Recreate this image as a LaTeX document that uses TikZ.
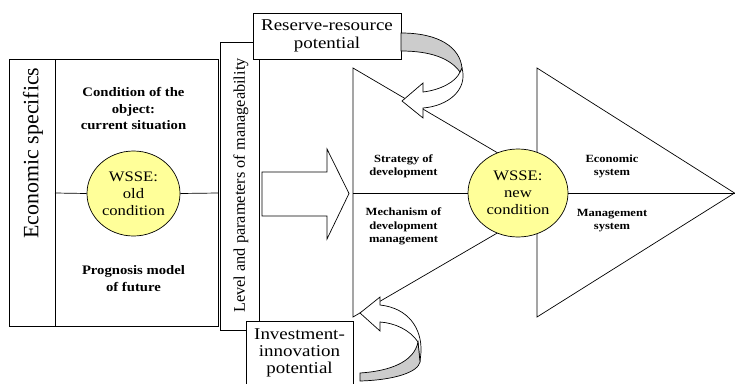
\documentclass[tikz,border=0pt]{standalone}
\usepackage{fontspec}
\setmainfont{Liberation Serif}
\usetikzlibrary{shapes.geometric}
\definecolor{wyellow}{RGB}{255,255,153}
\definecolor{rgray}{RGB}{204,204,204}
\newcommand{\sx}[1]{\scalebox{1.15}[1]{#1}}
\begin{document}
\begin{tikzpicture}[x=1pt,y=-1pt,line width=0.7pt,
  boxn/.style={draw,fill=white,inner sep=0pt,align=center},
  btxt/.style={font=\fontsize{11}{13.2}\selectfont\bfseries,align=center,xscale=1.14,inner sep=0pt},
  bltxt/.style={font=\fontsize{13}{16.5}\selectfont\bfseries,align=center,xscale=1.13,inner sep=0pt},
  rtxt/.style={font=\fontsize{16.5}{19}\selectfont},
  wtxt/.style={font=\fontsize{14.5}{16.8}\selectfont,align=center,xscale=1.15,inner sep=0pt},
  wsse/.style={draw,fill=wyellow,ellipse,inner sep=0pt},
  ribbon/.style={draw,fill=rgray},
  hollow/.style={draw,fill=white}]
\useasboundingbox (0,0) rectangle (735,383);

% left boxes
\node[boxn,minimum width=46pt,minimum height=267pt] (econ) at (32,192.5) {};
\node[rotate=90,font=\fontsize{21.9}{22}\selectfont,inner sep=0pt] (econt) at (33,153) {Economic specifics};
\node[boxn,minimum width=163pt,minimum height=267pt] (mid) at (136.5,192.5) {};
\coordinate (midl) at (55,193);
\coordinate (midr) at (218,193);
\node[wsse,minimum width=93pt,minimum height=85pt] (oldc) at (133.5,193.5) {};
\draw (midl) -- (oldc.west);
\draw (oldc.east) -- (midr);
\node[wtxt] (oldt) at (133.5,193.5) {WSSE:\\old\\condition};
\node[bltxt] (cond) at (133.5,108.5) {Condition of the\\object:\\current situation};
\node[bltxt] (prog) at (133.5,278.5) {Prognosis model\\of future};

% level box
\node[boxn,minimum width=39pt,minimum height=288pt] (level) at (239.5,186) {};
\node[rotate=90,font=\fontsize{16.3}{17}\selectfont,inner sep=0pt] (levelt) at (241,185.5) {Level and parameters of manageability};

% block arrow
\draw[hollow] (262,172) -- (327,172) -- (327,149) -- (349,193.5) -- (327,239) -- (327,216) -- (262,216) -- cycle;

% triangles
\coordinate (lt) at (353,68);
\coordinate (lb) at (353,317);
\coordinate (la) at (566,193);
\coordinate (rt) at (537,68);
\coordinate (rb) at (537,317);
\coordinate (ra) at (734.5,193);
\coordinate (lm) at (353,193);
\draw[fill=white] (lt) -- (la) -- (lb) -- cycle;
\draw[fill=white] (rt) -- (ra) -- (rb) -- cycle;
\draw (lm) -- (ra);
\node[wsse,minimum width=100pt,minimum height=88pt] (newc) at (518,193) {};
\node[wtxt] (newt) at (518,193) {WSSE:\\new\\condition};

\node[btxt] (strat) at (403.5,166) {Strategy of\\development};
\node[btxt] (mech) at (403.5,226.5) {Mechanism of\\development\\management};
\node[btxt] (econs) at (612,166) {Economic\\system};
\node[btxt] (mgmt) at (612,220.5) {Management\\system};

% reserve box
\node[boxn,minimum width=148pt,minimum height=46pt,rtxt] (res) at (327,36) {\sx{Reserve-resource}\\[-0.5pt]\sx{potential}};
% investment box
\node[boxn,minimum width=107pt,minimum height=64pt,font=\fontsize{16.5}{17}\selectfont] (inv) at (299.5,353) {\sx{Investment-}\\\sx{innovation}\\\sx{potential}};

% upper curved arrow
\draw[hollow] (462,68) .. controls (468,90) and (448,106) .. (423,108) -- (423,118) -- (402,101) -- (423,83) -- (423,92) .. controls (440,90) and (456,82) .. (460,72) -- cycle;
\draw[ribbon] (401,33) .. controls (440,33) and (460,48) .. (462,68) -- (460,72) .. controls (450,58) and (430,51) .. (401,51) -- cycle;

% lower curved arrow
\draw[hollow] (380,305) .. controls (408,308) and (422,328) .. (421,352) -- (420,362) -- (418,342) .. controls (410,330) and (395,323) .. (380,322) -- (380,331) -- (360,313) -- (380,297) -- cycle;
\draw[ribbon] (418,342) .. controls (414,362) and (390,371) .. (360,373) -- (360,381) .. controls (395,380) and (418,372) .. (420,362) -- cycle;
\end{tikzpicture}
\end{document}
